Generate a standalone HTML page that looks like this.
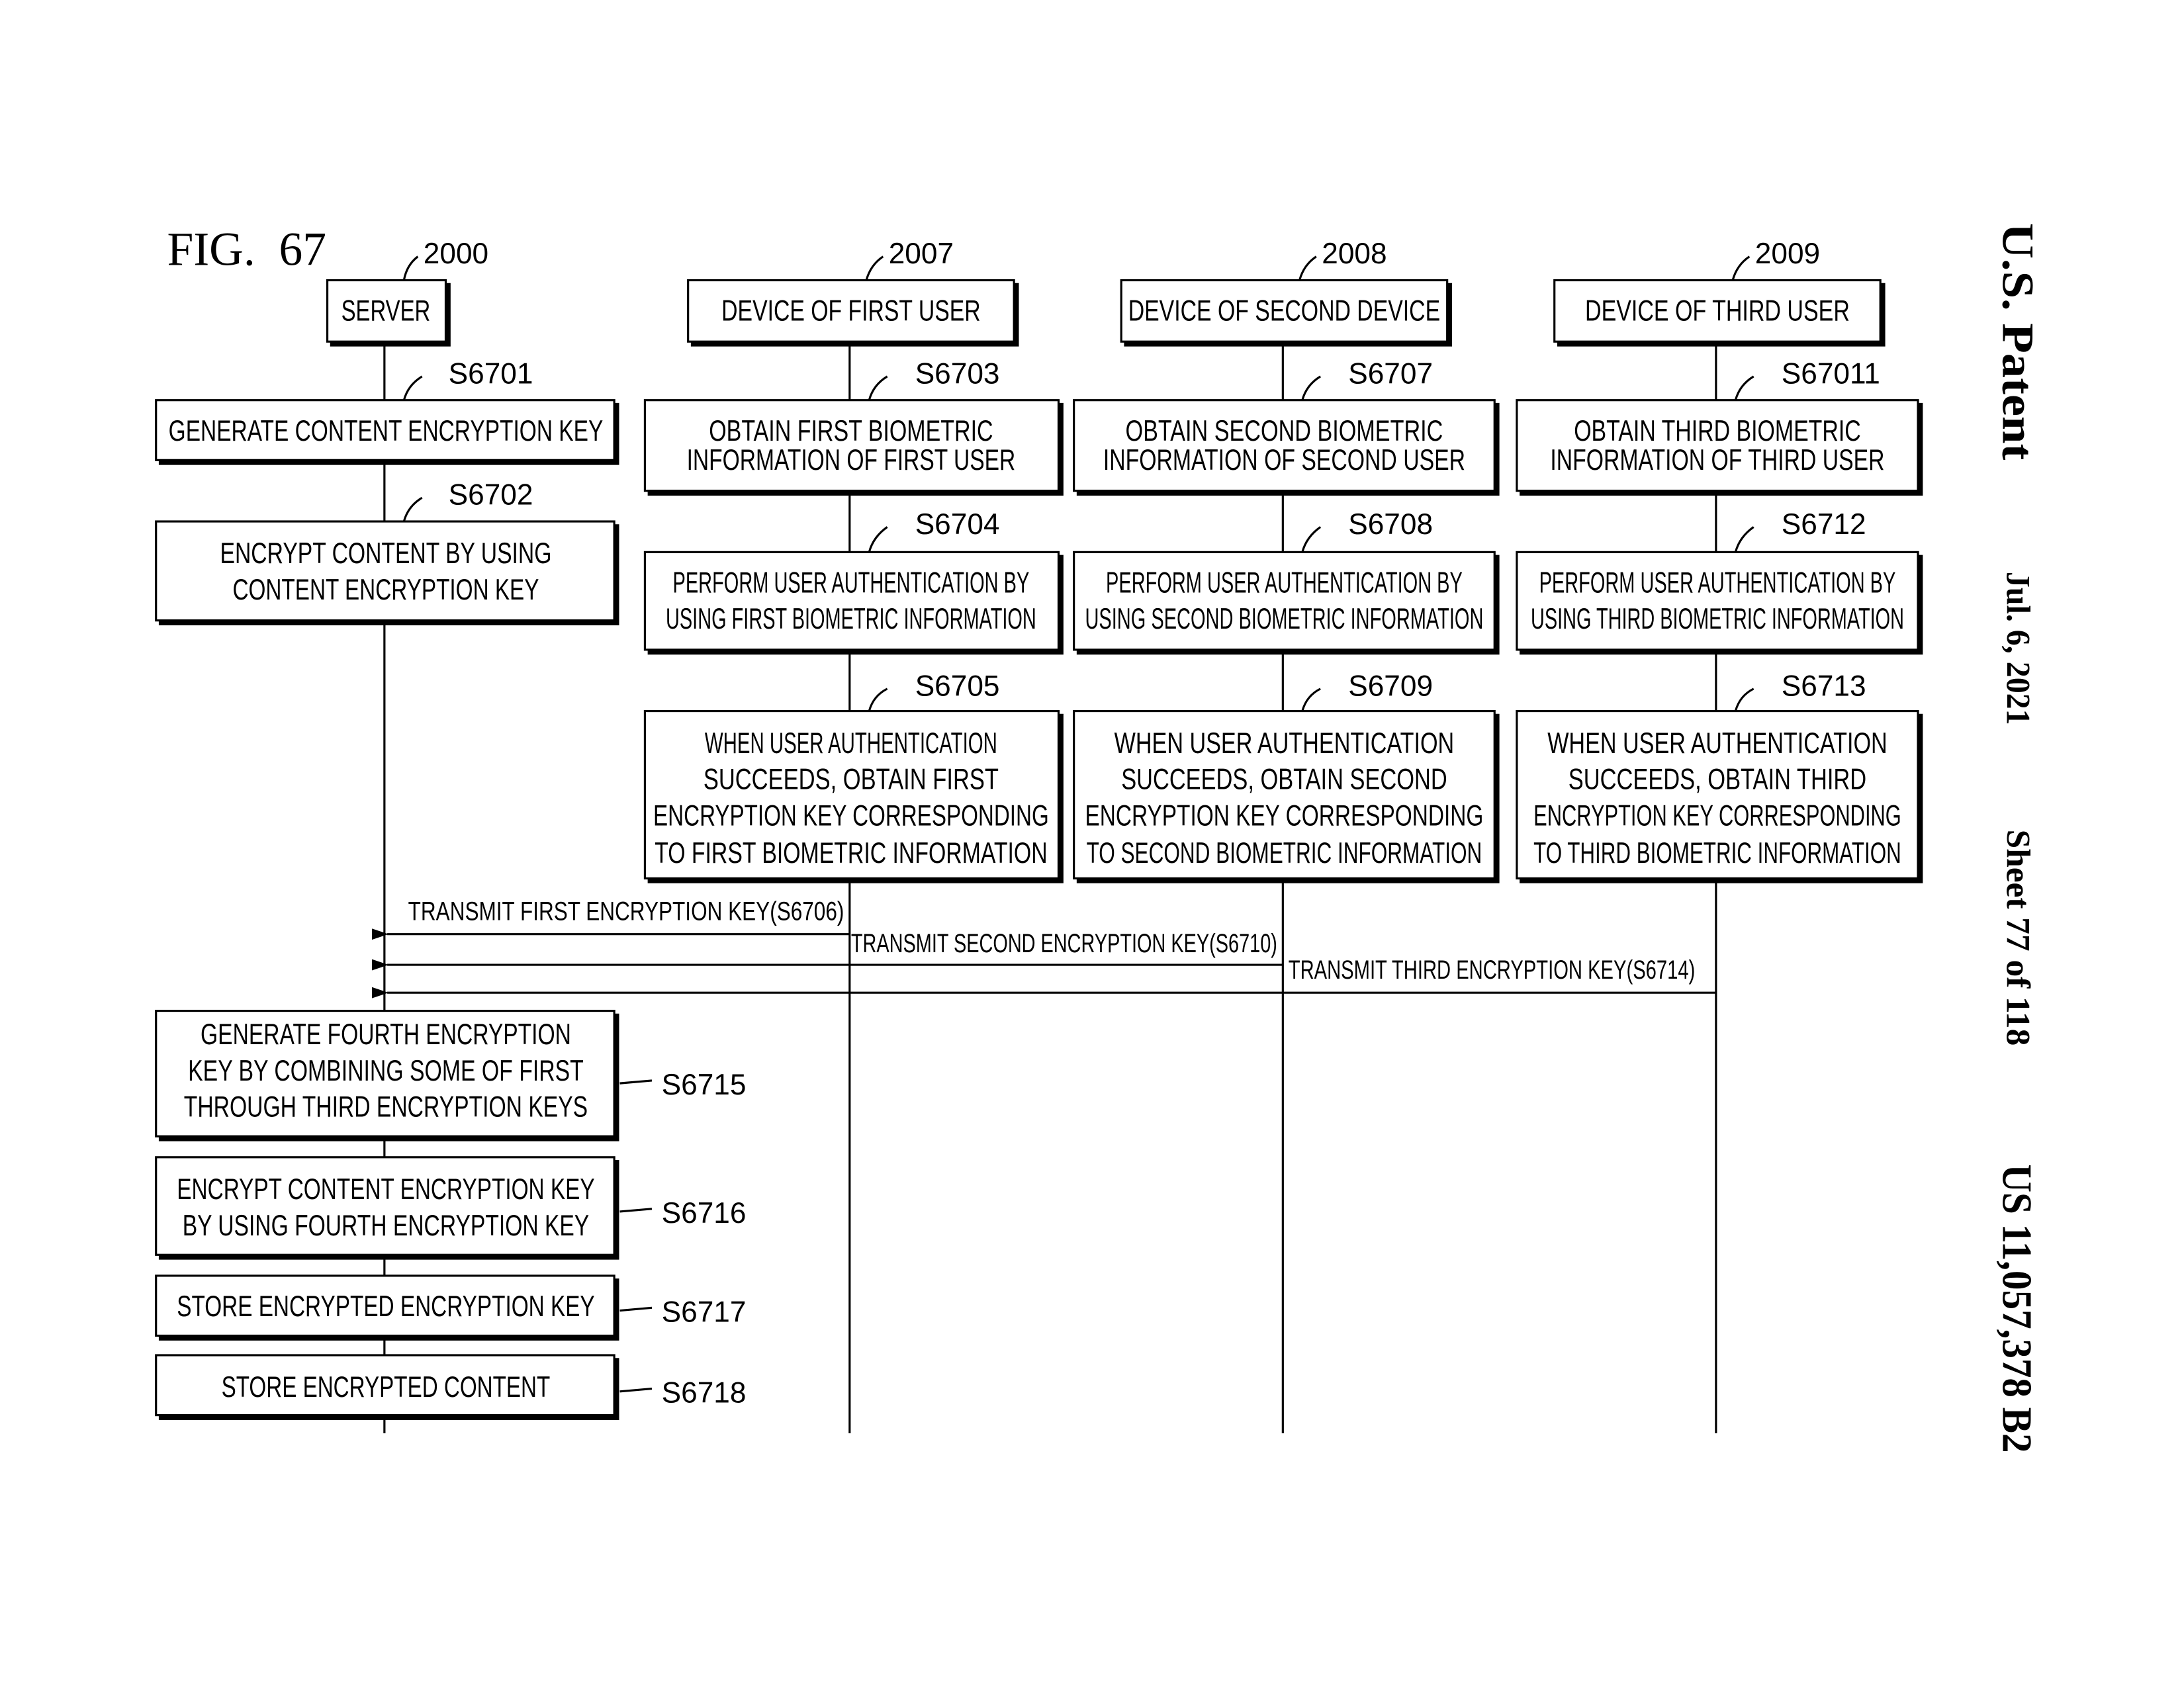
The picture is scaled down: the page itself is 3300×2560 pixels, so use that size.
<!DOCTYPE html>
<html><head><meta charset="utf-8"><style>html,body{margin:0;padding:0;background:#fff}svg{display:block}</style></head><body>
<svg width="3300" height="2560" viewBox="0 0 1568 1215" preserveAspectRatio="none" xmlns="http://www.w3.org/2000/svg" font-family="Liberation Sans, sans-serif" fill="#000">
<defs>
<marker id="ah" markerWidth="12" markerHeight="8" refX="1" refY="4" orient="auto" markerUnits="userSpaceOnUse"><path d="M12,0 L0,4 L12,8 z" fill="#000"/></marker>
</defs>
<g stroke="#000" stroke-width="1.5" fill="none">
<line x1="276" y1="245" x2="276" y2="1028"/>
<line x1="610" y1="245" x2="610" y2="1028"/>
<line x1="921" y1="245" x2="921" y2="1028"/>
<line x1="1232" y1="245" x2="1232" y2="1028"/>
<line x1="610" y1="670" x2="278" y2="670" marker-end="url(#ah)"/>
<line x1="921" y1="692" x2="278" y2="692" marker-end="url(#ah)"/>
<line x1="1232" y1="712" x2="278" y2="712" marker-end="url(#ah)"/>
<path d="M290,201 Q292,190 300,184"/>
<path d="M622,201 Q625,190 634,184"/>
<path d="M933,201 Q936,190 945,184"/>
<path d="M1244,201 Q1247,190 1256,184"/>
<path d="M290,287 Q293,276 303,270"/><path d="M290,374 Q293,363 303,357"/>
<path d="M624,287 Q627,276 637,270"/><path d="M935,287 Q938,276 948,270"/><path d="M1246,287 Q1249,276 1259,270"/>
<path d="M624,396 Q627,385 637,378"/><path d="M935,396 Q938,385 948,378"/><path d="M1246,396 Q1249,385 1259,378"/>
<path d="M624,510 Q627,499 637,494"/><path d="M935,510 Q938,499 948,494"/><path d="M1246,510 Q1249,499 1259,494"/>
<path d="M445,777 L468,775"/><path d="M445,869 L468,867"/><path d="M445,940 L468,938"/><path d="M445,998 L468,996"/>
</g>
<g fill="#fff" stroke="#000" stroke-width="1.5">
<rect x="235" y="201" width="85" height="44"/>
<rect x="494" y="201" width="234" height="44"/>
<rect x="805" y="201" width="234" height="44"/>
<rect x="1116" y="201" width="234" height="44"/>
<rect x="112" y="287" width="329" height="43"/>
<rect x="463" y="287" width="297" height="65"/>
<rect x="771" y="287" width="302" height="65"/>
<rect x="1089" y="287" width="288" height="65"/>
<rect x="112" y="374" width="329" height="71"/>
<rect x="463" y="396" width="297" height="70"/>
<rect x="771" y="396" width="302" height="70"/>
<rect x="1089" y="396" width="288" height="70"/>
<rect x="463" y="510" width="297" height="120"/>
<rect x="771" y="510" width="302" height="120"/>
<rect x="1089" y="510" width="288" height="120"/>
<rect x="112" y="725" width="329" height="90"/>
<rect x="112" y="830" width="329" height="70"/>
<rect x="112" y="915" width="329" height="43"/>
<rect x="112" y="972" width="329" height="43"/>
</g>
<g stroke="#000" stroke-width="3" fill="none">
<path d="M322,203 V247 H237"/><path d="M730,203 V247 H496"/><path d="M1041,203 V247 H807"/><path d="M1352,203 V247 H1118"/>
<path d="M443,289 V332 H114"/><path d="M762,289 V354 H465"/><path d="M1075,289 V354 H773"/><path d="M1379,289 V354 H1091"/>
<path d="M443,376 V447 H114"/><path d="M762,398 V468 H465"/><path d="M1075,398 V468 H773"/><path d="M1379,398 V468 H1091"/>
<path d="M762,512 V632 H465"/><path d="M1075,512 V632 H773"/><path d="M1379,512 V632 H1091"/>
<path d="M443,727 V817 H114"/><path d="M443,832 V902 H114"/><path d="M443,917 V960 H114"/><path d="M443,974 V1017 H114"/>
</g>
<text x="120" y="190" font-family="Liberation Serif, serif" font-size="34" xml:space="preserve">FIG.  67</text>
<g font-size="21">
<text x="304" y="189">2000</text><text x="638" y="189">2007</text><text x="949" y="189">2008</text><text x="1260" y="189">2009</text>
<text x="322" y="275">S6701</text><text x="322" y="362">S6702</text>
<text x="657" y="275">S6703</text><text x="968" y="275">S6707</text><text x="1279" y="275">S67011</text>
<text x="657" y="383">S6704</text><text x="968" y="383">S6708</text><text x="1279" y="383">S6712</text>
<text x="657" y="499">S6705</text><text x="968" y="499">S6709</text><text x="1279" y="499">S6713</text>
<text x="475" y="785">S6715</text><text x="475" y="877">S6716</text><text x="475" y="948">S6717</text><text x="475" y="1006">S6718</text>
</g>
<g font-size="21" text-anchor="middle">
<text x="277" y="230" textLength="64" lengthAdjust="spacingAndGlyphs">SERVER</text>
<text x="611" y="230" textLength="186" lengthAdjust="spacingAndGlyphs">DEVICE OF FIRST USER</text>
<text x="922" y="230" textLength="224" lengthAdjust="spacingAndGlyphs">DEVICE OF SECOND DEVICE</text>
<text x="1233" y="230" textLength="190" lengthAdjust="spacingAndGlyphs">DEVICE OF THIRD USER</text>
<text x="277" y="316" textLength="312" lengthAdjust="spacingAndGlyphs">GENERATE CONTENT ENCRYPTION KEY</text>
<text x="611" y="316" textLength="204" lengthAdjust="spacingAndGlyphs">OBTAIN FIRST BIOMETRIC</text>
<text x="611" y="337" textLength="236" lengthAdjust="spacingAndGlyphs">INFORMATION OF FIRST USER</text>
<text x="922" y="316" textLength="228" lengthAdjust="spacingAndGlyphs">OBTAIN SECOND BIOMETRIC</text>
<text x="922" y="337" textLength="260" lengthAdjust="spacingAndGlyphs">INFORMATION OF SECOND USER</text>
<text x="1233" y="316" textLength="206" lengthAdjust="spacingAndGlyphs">OBTAIN THIRD BIOMETRIC</text>
<text x="1233" y="337" textLength="240" lengthAdjust="spacingAndGlyphs">INFORMATION OF THIRD USER</text>
<text x="277" y="404" textLength="238" lengthAdjust="spacingAndGlyphs">ENCRYPT CONTENT BY USING</text>
<text x="277" y="430" textLength="220" lengthAdjust="spacingAndGlyphs">CONTENT ENCRYPTION KEY</text>
<text x="611" y="425" textLength="256" lengthAdjust="spacingAndGlyphs">PERFORM USER AUTHENTICATION BY</text>
<text x="611" y="451" textLength="266" lengthAdjust="spacingAndGlyphs">USING FIRST BIOMETRIC INFORMATION</text>
<text x="922" y="425" textLength="256" lengthAdjust="spacingAndGlyphs">PERFORM USER AUTHENTICATION BY</text>
<text x="922" y="451" textLength="286" lengthAdjust="spacingAndGlyphs">USING SECOND BIOMETRIC INFORMATION</text>
<text x="1233" y="425" textLength="256" lengthAdjust="spacingAndGlyphs">PERFORM USER AUTHENTICATION BY</text>
<text x="1233" y="451" textLength="268" lengthAdjust="spacingAndGlyphs">USING THIRD BIOMETRIC INFORMATION</text>
<text x="611" y="540" textLength="210" lengthAdjust="spacingAndGlyphs">WHEN USER AUTHENTICATION</text>
<text x="611" y="566" textLength="212" lengthAdjust="spacingAndGlyphs">SUCCEEDS, OBTAIN FIRST</text>
<text x="611" y="592" textLength="284" lengthAdjust="spacingAndGlyphs">ENCRYPTION KEY CORRESPONDING</text>
<text x="611" y="619" textLength="282" lengthAdjust="spacingAndGlyphs">TO FIRST BIOMETRIC INFORMATION</text>
<text x="922" y="540" textLength="244" lengthAdjust="spacingAndGlyphs">WHEN USER AUTHENTICATION</text>
<text x="922" y="566" textLength="234" lengthAdjust="spacingAndGlyphs">SUCCEEDS, OBTAIN SECOND</text>
<text x="922" y="592" textLength="286" lengthAdjust="spacingAndGlyphs">ENCRYPTION KEY CORRESPONDING</text>
<text x="922" y="619" textLength="284" lengthAdjust="spacingAndGlyphs">TO SECOND BIOMETRIC INFORMATION</text>
<text x="1233" y="540" textLength="244" lengthAdjust="spacingAndGlyphs">WHEN USER AUTHENTICATION</text>
<text x="1233" y="566" textLength="214" lengthAdjust="spacingAndGlyphs">SUCCEEDS, OBTAIN THIRD</text>
<text x="1233" y="592" textLength="264" lengthAdjust="spacingAndGlyphs">ENCRYPTION KEY CORRESPONDING</text>
<text x="1233" y="619" textLength="264" lengthAdjust="spacingAndGlyphs">TO THIRD BIOMETRIC INFORMATION</text>
<text x="277" y="749" textLength="266" lengthAdjust="spacingAndGlyphs">GENERATE FOURTH ENCRYPTION</text>
<text x="277" y="775" textLength="284" lengthAdjust="spacingAndGlyphs">KEY BY COMBINING SOME OF FIRST</text>
<text x="277" y="801" textLength="290" lengthAdjust="spacingAndGlyphs">THROUGH THIRD ENCRYPTION KEYS</text>
<text x="277" y="860" textLength="300" lengthAdjust="spacingAndGlyphs">ENCRYPT CONTENT ENCRYPTION KEY</text>
<text x="277" y="886" textLength="292" lengthAdjust="spacingAndGlyphs">BY USING FOURTH ENCRYPTION KEY</text>
<text x="277" y="944" textLength="300" lengthAdjust="spacingAndGlyphs">STORE ENCRYPTED ENCRYPTION KEY</text>
<text x="277" y="1002" textLength="236" lengthAdjust="spacingAndGlyphs">STORE ENCRYPTED CONTENT</text>
</g>
<g font-size="19">
<text x="293" y="660" textLength="313" lengthAdjust="spacingAndGlyphs">TRANSMIT FIRST ENCRYPTION KEY(S6706)</text>
<text x="611" y="683" textLength="306" lengthAdjust="spacingAndGlyphs">TRANSMIT SECOND ENCRYPTION KEY(S6710)</text>
<text x="925" y="702" textLength="292" lengthAdjust="spacingAndGlyphs">TRANSMIT THIRD ENCRYPTION KEY(S6714)</text>
</g>
<g font-family="Liberation Serif, serif" font-weight="bold">
<text transform="translate(1438,160) rotate(90)" font-size="32" textLength="170" lengthAdjust="spacingAndGlyphs">U.S. Patent</text>
<text transform="translate(1441,410) rotate(90)" font-size="24" textLength="110" lengthAdjust="spacingAndGlyphs">Jul. 6, 2021</text>
<text transform="translate(1441,595) rotate(90)" font-size="24" textLength="155" lengthAdjust="spacingAndGlyphs">Sheet 77 of 118</text>
<text transform="translate(1438,835) rotate(90)" font-size="30" textLength="207" lengthAdjust="spacingAndGlyphs">US 11,057,378 B2</text>
</g>
</svg>
</body></html>
